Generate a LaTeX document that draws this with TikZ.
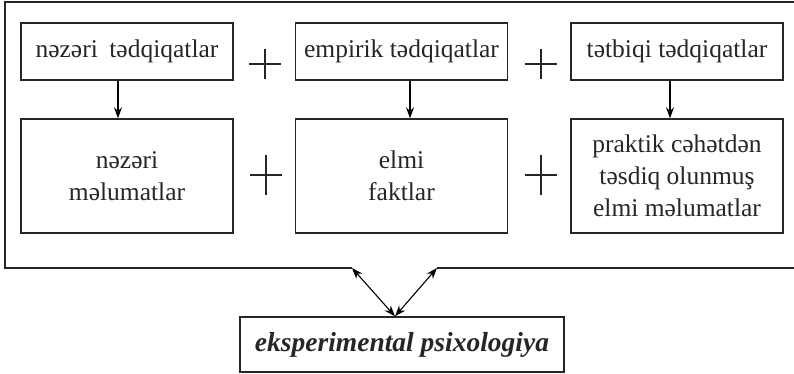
\documentclass[tikz,border=0pt]{standalone}
\usepackage{fontspec}
\setmainfont{Liberation Serif}
\newfontfamily\tnr{Liberation Serif}
\usetikzlibrary{arrows.meta,calc}
\begin{document}
\begin{tikzpicture}[x=1pt,y=-1pt,
  box/.style={draw=black!85,line width=1.4pt,inner sep=0pt,align=center,
    font=\tnr\fontsize{25.5}{32}\selectfont,text=black!85},
  topbox/.style={box,minimum width=212pt,minimum height=57pt},
  botbox/.style={box,minimum width=212pt,minimum height=114pt},
  plus/.style={line width=1.2pt,draw=black!85},
  arr/.style={-{Stealth[length=11pt,width=8pt]},line width=1.1pt},
  darr/.style={{Stealth[length=11pt,width=8pt]}-{Stealth[length=11pt,width=8pt]},line width=1.1pt},
  frame/.style={line width=2.4pt,draw=black!85}]
\useasboundingbox (0,0) rectangle (794,374);
% top row
\node[topbox] (t1) at (127,51.5) {nəzəri\hspace{0.45em}tədqiqatlar};
\node[topbox] (t2) at (401.5,51.5) {empirik tədqiqatlar};
\node[topbox] (t3) at (677,51.5) {tətbiqi tədqiqatlar};
% bottom row
\node[botbox] (b1) at (127,176) {nəzəri\\məlumatlar};
\node[botbox] (b2) at (401.5,176) {elmi\\faktlar};
\node[botbox] (b3) at (677,176) {praktik cəhətdən\\təsdiq olunmuş\\elmi məlumatlar};
% result
\node[box,minimum width=324pt,minimum height=55pt,
  font=\tnr\fontsize{27.5}{32}\selectfont\bfseries\itshape] (e) at (402,344.5) {eksperimental psixologiya};
% plus signs
\foreach \px/\py/\h in {265/64/15,541/64/15,266/175/20,541/175/20}{
  \draw[plus] (\px-16,\py) -- (\px+16,\py);
  \draw[plus] (\px,\py-\h) -- (\px,\py+\h);
}
% vertical arrows
\draw[arr] ($(t1.south)+(-9,0)$) -- ($(b1.north)+(-9,0)$);
\draw[arr] ($(t2.south)+(8.5,0)$) -- ($(b2.north)+(8.5,0)$);
\draw[arr] ($(t3.south)+(-7,0)$) -- ($(b3.north)+(-7,0)$);
% frame
\coordinate (fl) at (352,268);
\coordinate (fr) at (437,268);
\coordinate (ftl) at (5,2);
\coordinate (ftr) at (794,2);
\coordinate (fbr) at (794,268);
\draw[frame] (fl) -- (fl -| ftl) -- (ftl) -- (ftr);
\draw[frame] (fr) -- (fbr);
% double arrows
\coordinate (ep) at ($(e.north)+(-7,0)$);
\draw[darr] (ep) -- (fl);
\draw[darr] (ep) -- (fr);
\end{tikzpicture}
\end{document}
